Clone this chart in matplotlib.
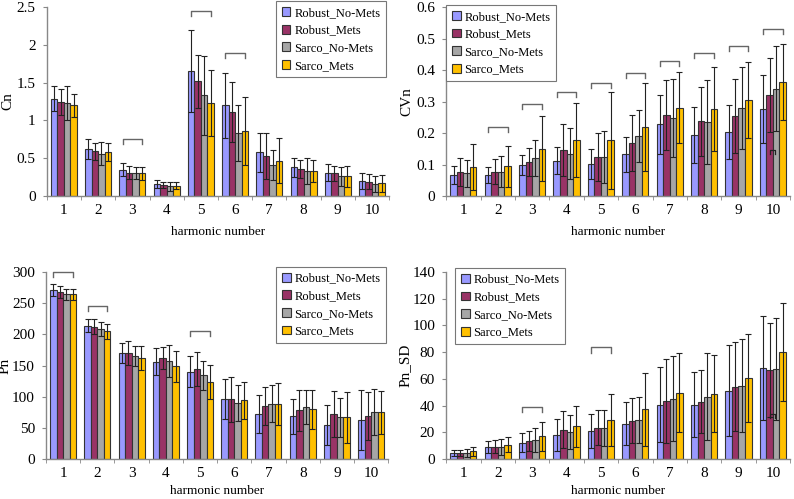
import matplotlib
matplotlib.use('Agg')
import matplotlib.pyplot as plt
import numpy as np

plt.rcParams['font.family'] = ['Liberation Serif', 'DejaVu Serif']
plt.rcParams['font.size'] = 9

harmonics = [1, 2, 3, 4, 5, 6, 7, 8, 9, 10]
groups = ['Robust_No-Mets', 'Robust_Mets', 'Sarco_No-Mets', 'Sarco_Mets']
colors = ['#9999FF', '#993366', '#A6A6A6', '#FFC000']

# Cn
cn_mean = [
    [1.29, 0.62, 0.35, 0.16, 1.65, 1.20, 0.58, 0.38, 0.31, 0.20],
    [1.24, 0.59, 0.31, 0.15, 1.52, 1.11, 0.53, 0.36, 0.30, 0.19],
    [1.23, 0.56, 0.30, 0.13, 1.33, 0.83, 0.41, 0.33, 0.26, 0.16],
    [1.20, 0.58, 0.30, 0.14, 1.23, 0.86, 0.47, 0.33, 0.26, 0.17],
]
cn_err = [
    [0.17, 0.13, 0.09, 0.05, 0.54, 0.43, 0.26, 0.13, 0.11, 0.11],
    [0.17, 0.11, 0.09, 0.04, 0.35, 0.40, 0.31, 0.12, 0.10, 0.10],
    [0.22, 0.15, 0.08, 0.06, 0.52, 0.37, 0.20, 0.17, 0.13, 0.11],
    [0.15, 0.12, 0.09, 0.05, 0.44, 0.45, 0.30, 0.15, 0.14, 0.11],
]
cn_brackets = [(3, 0.75), (5, 2.45), (6, 1.89)]

# CVn
cvn_mean = [
    [0.067, 0.066, 0.099, 0.112, 0.101, 0.133, 0.228, 0.193, 0.204, 0.275],
    [0.076, 0.078, 0.109, 0.147, 0.123, 0.169, 0.257, 0.237, 0.254, 0.320],
    [0.072, 0.078, 0.121, 0.134, 0.124, 0.190, 0.248, 0.236, 0.280, 0.340],
    [0.092, 0.094, 0.151, 0.178, 0.177, 0.219, 0.280, 0.276, 0.305, 0.362],
]
cvn_err = [
    [0.029, 0.026, 0.033, 0.043, 0.048, 0.056, 0.094, 0.089, 0.086, 0.108],
    [0.044, 0.040, 0.044, 0.082, 0.076, 0.089, 0.112, 0.109, 0.116, 0.118],
    [0.043, 0.048, 0.057, 0.081, 0.083, 0.083, 0.123, 0.133, 0.129, 0.135],
    [0.074, 0.065, 0.102, 0.118, 0.153, 0.140, 0.113, 0.134, 0.122, 0.120],
]
cvn_brackets = [(2, 0.218), (3, 0.293), (4, 0.330), (5, 0.360), (6, 0.392),
                (7, 0.428), (8, 0.455), (9, 0.476), (10, 0.530)]
cvn_small = [(10, 0.146)]

# Pn
pn_mean = [
    [271, 214, 170, 156, 140, 96, 72, 69, 55, 63],
    [268, 212, 170, 162, 144, 96, 85, 78, 72, 69],
    [264, 208, 165, 157, 134, 90, 89, 83, 67, 76],
    [264, 205, 162, 149, 124, 94, 88, 80, 67, 75],
]
pn_err = [
    [9, 11, 16, 22, 25, 32, 30, 28, 32, 48],
    [9, 12, 19, 17, 27, 36, 31, 33, 37, 38],
    [9, 11, 16, 26, 23, 29, 29, 27, 31, 37],
    [9, 12, 19, 25, 27, 29, 34, 31, 41, 34],
]
pn_brackets = [(1, 300), (2, 246), (5, 205)]

# Pn_SD
pnsd_mean = [
    [4.5, 8.8, 12.4, 18.1, 21.0, 26.6, 40.8, 40.8, 51.2, 68.3],
    [4.7, 9.3, 13.5, 22.0, 23.4, 28.8, 43.8, 42.8, 54.2, 66.6],
    [4.8, 9.3, 14.0, 20.3, 23.1, 29.1, 45.3, 46.8, 55.0, 67.4],
    [5.7, 10.7, 16.9, 24.4, 29.1, 37.1, 49.6, 49.0, 60.6, 80.1],
]
pnsd_err = [
    [2.4, 4.6, 7.2, 11.7, 12.8, 16.4, 28.3, 24.6, 33.9, 39.1],
    [2.3, 5.0, 7.8, 13.9, 13.0, 17.1, 31.4, 23.6, 33.4, 34.9],
    [3.0, 5.9, 8.9, 12.8, 13.3, 17.3, 31.7, 32.5, 34.9, 38.3],
    [3.2, 5.7, 10.6, 15.6, 19.4, 27.3, 29.7, 28.8, 32.7, 37.0],
]
pnsd_brackets = [(3, 38.8), (5, 83.5)]
pnsd_small = [(10, 33.8)]

axis_gray = '#888888'
width = 0.19


def draw_panel(ax, means, errs, ylabel, ylim, yticks, ytlabels, brackets,
               small, legend_anchor, legend_loc, xlab_y, ylab_x):
    x = np.arange(len(harmonics))
    offsets = (np.arange(4) - 1.5) * width
    for i in range(4):
        ax.bar(x + offsets[i], means[i], width, color=colors[i],
               edgecolor='#333333', linewidth=0.8, label=groups[i], zorder=2)
        ax.errorbar(x + offsets[i], means[i], yerr=errs[i], fmt='none',
                    ecolor='#222222', elinewidth=0.8, capsize=2.2, capthick=0.8,
                    zorder=3)
    span = ylim[1] - ylim[0]
    tick = span * 0.027
    for h, y in brackets:
        c = h - 1
        x0, x1 = c + offsets[0], c + offsets[3]
        ax.plot([x0, x0, x1, x1], [y - tick, y, y, y - tick], color='#666666',
                lw=1.0, zorder=4, clip_on=False)
    for h, y in small:
        c = h - 1
        x0, x1 = c + offsets[1] + 0.02, c + offsets[2] - 0.02
        ax.plot([x0, x0, x1, x1], [y - tick * 0.8, y, y, y - tick * 0.8],
                color='#222222', lw=0.9, zorder=4)

    ax.set_xlim(-0.5, len(harmonics) - 0.5)
    ax.set_ylim(*ylim)
    ax.set_xticks(x)
    ax.set_xticklabels([str(h) for h in harmonics], fontsize=11)
    ax.set_xticks(np.arange(len(harmonics) + 1) - 0.5, minor=True)
    ax.tick_params(axis='x', which='major', length=0, pad=6)
    ax.tick_params(axis='x', which='minor', length=3, direction='out',
                   color=axis_gray)
    ax.set_yticks(yticks)
    ax.set_yticklabels(ytlabels, fontsize=11)
    ax.tick_params(axis='y', length=3, direction='out', color=axis_gray, pad=5)
    for s in ['top', 'right']:
        ax.spines[s].set_visible(False)
    for s in ['left', 'bottom']:
        ax.spines[s].set_color(axis_gray)
        ax.spines[s].set_linewidth(1.0)
    ax.set_xlabel('harmonic number', fontsize=9.5)
    ax.xaxis.set_label_coords(0.5, xlab_y)
    ax.set_ylabel(ylabel, fontsize=11)
    ax.yaxis.set_label_coords(ylab_x, 0.5)
    leg = ax.legend(loc=legend_loc, bbox_to_anchor=legend_anchor,
                    borderaxespad=0, fancybox=False, handlelength=0.7,
                    handleheight=0.7, handletextpad=0.3, labelspacing=0.45,
                    borderpad=0.45, framealpha=1, edgecolor='#777777')
    leg.get_frame().set_linewidth(0.8)


fig = plt.figure(figsize=(7.94, 4.99), dpi=100)
ax1 = fig.add_axes([0.059, 0.607, 0.431, 0.379])
ax2 = fig.add_axes([0.562, 0.607, 0.433, 0.379])
ax3 = fig.add_axes([0.058, 0.080, 0.431, 0.375])
ax4 = fig.add_axes([0.562, 0.080, 0.433, 0.375])

draw_panel(ax1, cn_mean, cn_err, 'Cn', (0, 2.5),
           [0, 0.5, 1, 1.5, 2, 2.5], ['0', '0.5', '1', '1.5', '2', '2.5'],
           cn_brackets, [], (0.991, 1.03), 'upper right', -0.16, -0.095)
draw_panel(ax2, cvn_mean, cvn_err, 'CVn', (0, 0.6),
           [0, 0.1, 0.2, 0.3, 0.4, 0.5, 0.6],
           ['0', '0.1', '0.2', '0.3', '0.4', '0.5', '0.6'],
           cvn_brackets, cvn_small, (0.0, 1.01), 'upper left', -0.16, -0.095)
draw_panel(ax3, pn_mean, pn_err, 'Pn', (0, 300),
           [0, 50, 100, 150, 200, 250, 300],
           ['0', '50', '100', '150', '200', '250', '300'],
           pn_brackets, [], (0.994, 1.027), 'upper right', -0.14, -0.1)
draw_panel(ax4, pnsd_mean, pnsd_err, 'Pn_SD', (0, 140),
           [0, 20, 40, 60, 80, 100, 120, 140],
           ['0', '20', '40', '60', '80', '100', '120', '140'],
           pnsd_brackets, pnsd_small, (0.026, 1.021), 'upper left', -0.14, -0.1)

fig.savefig('out.png', dpi=100)
